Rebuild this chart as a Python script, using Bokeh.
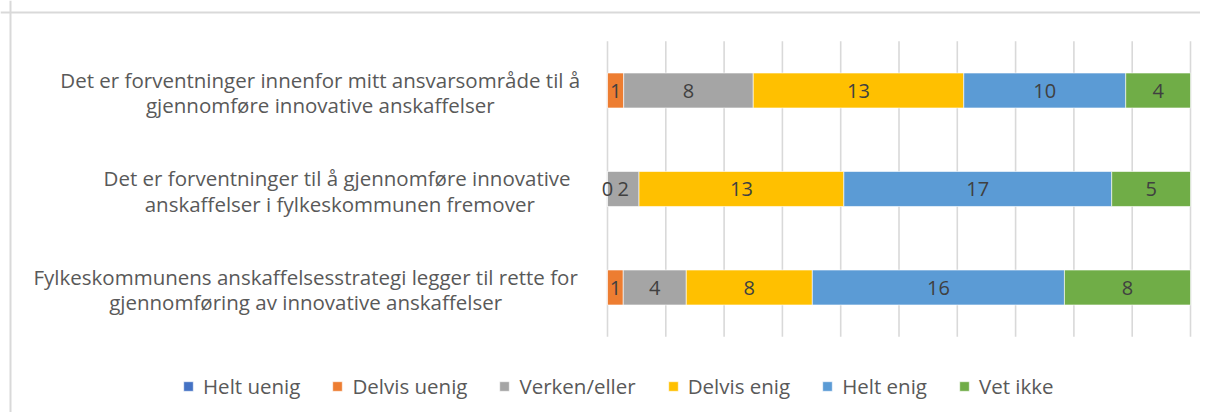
from bokeh.plotting import figure
from bokeh.models import (ColumnDataSource, Legend, LegendItem, Range1d, Span)
from bokeh.core.properties import value
from bokeh.embed import file_html
from bokeh.resources import INLINE

categories = [
    "Det er forventninger innenfor mitt ansvarsområde til å\ngjennomføre innovative anskaffelser",
    "Det er  forventninger til å gjennomføre innovative\nanskaffelser i fylkeskommunen fremover",
    "Fylkeskommunens anskaffelsesstrategi legger til rette for\ngjennomføring av innovative anskaffelser",
]
series_names = ["Helt uenig", "Delvis uenig", "Verken/eller", "Delvis enig", "Helt enig", "Vet ikke"]
helt_uenig = [None, None, None]
delvis_uenig = [1, 0, 1]
verken_eller = [8, 2, 4]
delvis_enig = [13, 13, 8]
helt_enig = [10, 17, 16]
vet_ikke = [4, 5, 8]
colors = ["#4472C4", "#ED7D31", "#A5A5A5", "#FFC000", "#5B9BD5", "#70AD47"]
grid_ticks = [i / 10 for i in range(11)]  # 0 % .. 100 %

series = [helt_uenig, delvis_uenig, verken_eller, delvis_enig, helt_enig, vet_ikke]
keys = ["s%d" % i for i in range(len(series))]
n = len(categories)

# ---- layout constants (canvas pixels) ----
W, H = 1200, 412
X0_PX, X1_PX = 607, 1190           # where 0 % and 100 % fall
ROW_TOP_PX, ROW_STEP_PX = 90, 98.5  # centre of first row, row pitch
LABEL_RIGHT_PX = 583                # right edge of category label block
CHAR_W = 9.75                       # approx. average glyph advance of label font
FONT = "Open Sans"
LABEL_SIZE = "20.5px"

ppu = X1_PX - X0_PX
x_start = -X0_PX / ppu
x_end = 1 + (W - X1_PX) / ppu
y_end = (n - 1) + ROW_TOP_PX / ROW_STEP_PX
y_start = y_end - H / ROW_STEP_PX

totals = [sum((s[i] or 0) for s in series) for i in range(n)]
ypos = [n - 1 - i for i in range(n)]
data = {"y": ypos}
for k, s in zip(keys, series):
    data[k] = [(v or 0) / t for v, t in zip(s, totals)]
src = ColumnDataSource(data)

lx, ly, lt = [], [], []
for i in range(n):
    cum = 0.0
    for s in series:
        v = s[i]
        frac = (v or 0) / totals[i]
        if v is not None:
            lx.append(cum + frac / 2)
            ly.append(ypos[i])
            lt.append(str(v))
        cum += frac
lab_src = ColumnDataSource(dict(x=lx, y=ly, t=lt))

p = figure(width=W, height=H, output_backend="svg", toolbar_location=None,
           x_range=Range1d(x_start, x_end), y_range=Range1d(y_start, y_end),
           min_border=0)
p.xaxis.visible = False
p.yaxis.visible = False
p.grid.visible = False
p.outline_line_color = None

# vertical gridlines over the plot area
p.segment(x0=grid_ticks, x1=grid_ticks, y0=[-0.5] * len(grid_ticks),
          y1=[n - 0.5] * len(grid_ticks), line_color="#d9d9d9", line_width=1.6)

renderers = p.hbar_stack(keys, y="y", height=0.355, color=colors, source=src,
                         line_color="white", line_width=0.6)

p.text(x="x", y="y", text="t", source=lab_src, text_align="center",
       text_baseline="middle", text_color="#404040", text_font_size="20px",
       text_font=value(FONT))

# category labels: block right-aligned to the plot, lines centred within the block
cat_x = []
for c in categories:
    longest = max(len(line) for line in c.split("\n"))
    centre_px = LABEL_RIGHT_PX - longest * CHAR_W / 2
    cat_x.append((centre_px - X0_PX) / ppu)
p.text(x=cat_x, y=ypos, text=categories, text_align="center",
       text_baseline="middle", text_color="#595959", text_font_size=LABEL_SIZE,
       text_font=value(FONT), text_line_height=0.9, y_offset=2)

legend = Legend(items=[LegendItem(label=nm, renderers=[r]) for nm, r in zip(series_names, renderers)],
                orientation="horizontal", location=(182, 12),
                glyph_width=12, glyph_height=12, label_standoff=9, spacing=31,
                label_text_font=FONT, label_text_font_size=LABEL_SIZE, label_text_color="#595959",
                border_line_color=None, background_fill_alpha=0, padding=0, margin=0)
p.add_layout(legend, "center")

# chart-area border (left and top edges); screen y is measured from the bottom
p.add_layout(Span(location=10, location_units="screen", dimension="height",
                  line_color="#d9d9d9", line_width=2))
p.add_layout(Span(location=H - 12, location_units="screen", dimension="width",
                  line_color="#d9d9d9", line_width=2))

open("out.html", "w").write(file_html(p, INLINE))
